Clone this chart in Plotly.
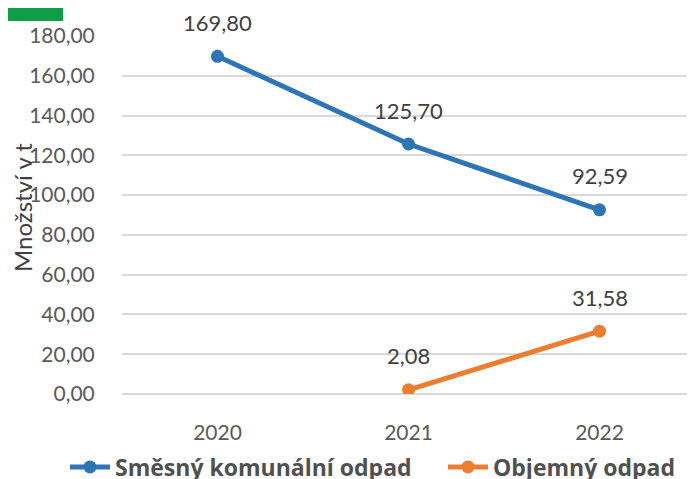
import plotly.graph_objects as go

years = ["2020", "2021", "2022"]
smesny = [169.80, 125.70, 92.59]
objemny = [None, 2.08, 31.58]
series_names = ["Směsný komunální odpad", "Objemný odpad"]
y_ticks = [0, 20, 40, 60, 80, 100, 120, 140, 160, 180]

blue = "#2E75B6"
orange = "#ED7D31"
gray = "#595959"
font_family = "Lato, 'Open Sans', sans-serif"

# The page body has an 8px default margin, so the figure is sized to fill the
# remaining viewport.
W, H = 687, 471
ML, MT, MB = 114, 28, 85
PW, PH = W - ML, H - MT - MB

fig = go.Figure()
fig.add_trace(go.Scatter(
    x=years, y=smesny, mode="lines+markers", name=series_names[0],
    line=dict(color=blue, width=5), marker=dict(color=blue, size=13),
    legend="legend",
))
fig.add_trace(go.Scatter(
    x=years, y=objemny, mode="lines+markers", name=series_names[1],
    line=dict(color=orange, width=5), marker=dict(color=orange, size=13),
    legend="legend2",
))

def fmt(v):
    return f"{v:.2f}".replace(".", ",")

annotations = []
for ys in (smesny, objemny):
    for i, yv in enumerate(ys):
        if yv is None:
            continue
        annotations.append(dict(
            x=i, y=yv, xref="x", yref="y", text=fmt(yv), showarrow=False,
            yshift=34, font=dict(size=22, color="#404040", family=font_family),
        ))

annotations.append(dict(
    x=-100 / PW, y=0.5 + 7 / PH, xref="paper", yref="paper", text="Množství v t",
    textangle=-90, showarrow=False, xanchor="center", yanchor="middle",
    font=dict(size=24, color="#404040", family=font_family),
))

legend_style = dict(
    orientation="h", xanchor="left", y=-73 / PH, yanchor="middle",
    font=dict(size=23, color="#505050", family="'Open Sans', sans-serif", weight="bold"),
    itemwidth=40, tracegroupgap=0, bgcolor="rgba(0,0,0,0)",
)

fig.update_layout(
    width=W, height=H,
    margin=dict(l=ML, r=0, t=MT, b=MB, autoexpand=False),
    paper_bgcolor="white", plot_bgcolor="white",
    separators=", ",
    font=dict(family=font_family, color=gray, size=21),
    showlegend=True,
    legend=dict(x=-57 / PW, **legend_style),
    legend2=dict(x=(443 - 122) / PW, **legend_style),
    annotations=annotations,
    shapes=[dict(
        type="rect", xref="paper", yref="paper",
        x0=-ML / PW, x1=(55 - ML) / PW,
        y0=1 + (MT - 13) / PH, y1=1 + MT / PH + 0.01,
        fillcolor="#0E9E48", line=dict(width=0), layer="above",
    )],
)

fig.update_xaxes(
    type="category", range=[-0.5, 2.5], showgrid=False, automargin=False,
    showline=False, ticks="outside", ticklen=20, tickcolor="rgba(0,0,0,0)",
    tickfont=dict(size=21, color=gray),
)
fig.update_yaxes(
    range=[0, 180], tickvals=y_ticks, tickformat=".2f", automargin=False,
    showgrid=True, gridcolor="#D9D9D9", gridwidth=1.5,
    zeroline=True, zerolinecolor="#D9D9D9", zerolinewidth=1.5,
    ticks="outside", ticklen=22, tickcolor="rgba(0,0,0,0)",
    tickfont=dict(size=21, color=gray),
)

fig.write_html("out.html")
